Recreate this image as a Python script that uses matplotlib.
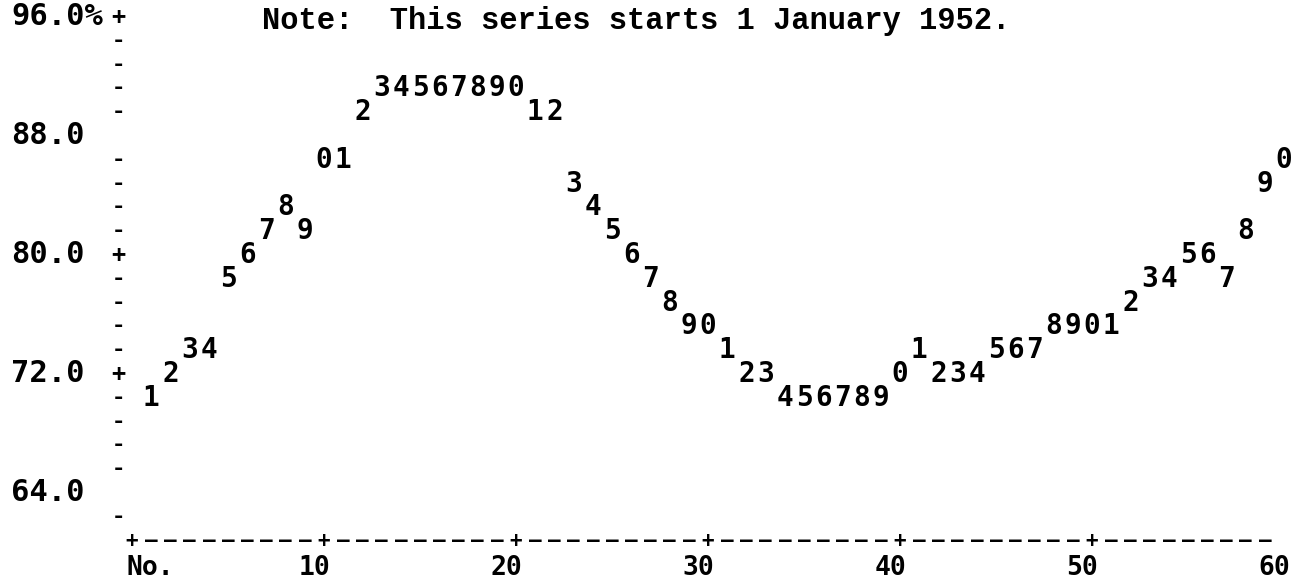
import numpy as np
import matplotlib.pyplot as plt

# monthly series, one digit per month (last digit of month number)
months = np.arange(1, 61)
values = [70.4, 72.0, 73.6, 73.6, 78.4, 80.0, 81.6, 83.2, 81.6, 86.4,
          86.4, 89.6, 91.2, 91.2, 91.2, 91.2, 91.2, 91.2, 91.2, 91.2,
          89.6, 89.6, 84.8, 83.2, 81.6, 80.0, 78.4, 76.8, 75.2, 75.2,
          73.6, 72.0, 72.0, 70.4, 70.4, 70.4, 70.4, 70.4, 70.4, 72.0,
          73.6, 72.0, 72.0, 72.0, 73.6, 73.6, 73.6, 75.2, 75.2, 75.2,
          75.2, 76.8, 78.4, 78.4, 80.0, 80.0, 78.4, 81.6, 84.8, 86.4]

ylab_vals = [96.0, 88.0, 80.0, 72.0, 64.0]
ylab_text = ['96.0%', '88.0', '80.0', '72.0', '64.0']
plus_rows = [96.0, 80.0, 72.0]
blank_rows = [88.0, 64.0]
xlab_vals = [10, 20, 30, 40, 50, 60]
note = 'Note:  This series starts 1 January 1952.'

line_step = 1.6
rows = 96.0 - line_step * np.arange(22)
axis_row = 60.8
label_row = 58.95

mono = 'DejaVu Sans Mono'

fig = plt.figure(figsize=(13.1, 5.83), dpi=100)
ax = fig.add_axes([0, 0, 1, 1])
ax.set_xlim(-6.875, 61.35)
ax.set_ylim(57.95, 97.14)
ax.axis('off')

# vertical axis made of characters
for r in rows:
    if any(abs(r - b) < 0.01 for b in blank_rows):
        continue
    if any(abs(r - p) < 0.01 for p in plus_rows):
        ax.text(-0.73, r, '+', ha='center', va='center', family=mono,
                fontsize=17, fontweight='bold')
    else:
        ax.text(-0.73, r, '-', ha='center', va='center', family=mono,
                fontsize=16, fontweight='bold')

for v, t in zip(ylab_vals, ylab_text):
    ax.text(-6.3, v, t, ha='left', va='center', family=mono,
            fontsize=22, fontweight='bold')

# horizontal axis
for m in range(0, 60):
    ch = '+' if m % 10 == 0 else '–'
    ax.text(m, axis_row, ch, ha='center', va='center', family=mono,
            fontsize=15, fontweight='bold')

ax.text(-0.3, label_row, 'No.', ha='left', va='center', family=mono,
        fontsize=19, fontweight='bold')
for m in xlab_vals:
    ax.text(m - 0.5, label_row, str(m), ha='center', va='center',
            family=mono, fontsize=19, fontweight='bold')

# data digits
for m, v in zip(months, values):
    ax.text(m, v, str(m % 10), ha='center', va='center', family=mono,
            fontsize=20, fontweight='bold')

ax.text(6.75, 95.2, note, ha='left', va='baseline', family='Liberation Mono',
        fontsize=22, fontweight='bold')

fig.savefig('out.png', dpi=100)
